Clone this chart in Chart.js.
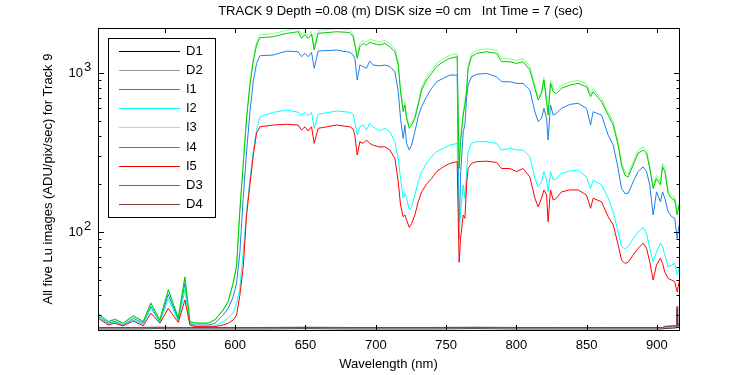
<!DOCTYPE html>
<html>
<head>
<meta charset="utf-8">
<script src="https://cdn.jsdelivr.net/npm/chart.js@4.4.1/dist/chart.umd.min.js"></script>
<style>
  body { margin: 0; background: #fff; }
  canvas { display: block; }
</style>
</head>
<body>
<canvas id="graph" width="750" height="375"></canvas>
<script>
// Comprimentos de onda (nm) das curvas I1..I5
var wavelength = [502.6, 509.7, 514.4, 520.3, 527.5, 534.6, 540.0, 546.4, 552.4, 559.5, 564.2, 567.8, 571.3, 580.8, 585.6, 591.5, 595.0, 598.6, 601.0, 603.3,
    605.7, 608.1, 610.5, 612.8, 615.2, 617.6, 627.0, 636.6, 644.8, 647.2, 649.6, 651.9, 654.3, 656.2, 659.0, 672.1, 681.6, 683.9, 685.1, 686.8,
    688.7, 691.0, 693.4, 695.7, 698.1, 702.9, 706.5, 710.0, 713.6, 716.0, 717.6, 719.5, 720.7, 721.9, 723.8, 725.5, 727.8, 730.2, 732.6, 736.1,
    739.7, 743.3, 748.0, 752.7, 757.9, 759.3, 760.3, 762.2, 763.4, 764.6, 765.7, 768.1, 771.7, 778.8, 785.9, 789.5, 795.4, 800.1, 804.8, 809.6,
    813.2, 815.5, 817.9, 819.6, 821.5, 822.6, 824.3, 826.2, 828.5, 832.1, 838.1, 843.9, 849.9, 852.8, 854.6, 860.6, 865.3, 868.9, 872.4, 874.8,
    877.2, 879.5, 883.1, 886.6, 890.2, 892.6, 894.9, 897.3, 899.7, 902.5, 904.0, 905.6, 908.0, 910.4, 912.7, 914.4, 915.8];

var i1 = [29.6, 26.7, 27.5, 26.0, 28.7, 26.7, 34.0, 27.3, 40.6, 28.0, 47.6, 26.7, 26.0, 26.0, 26.7, 30.1, 33.1, 39.2, 48, 74,
    163, 320, 571, 882, 1150, 1285, 1298, 1375, 1361, 1267, 1330, 1267, 1349, 1070, 1375, 1395, 1349, 1298, 1237, 904,
    1123, 1100, 1070, 1190, 1123, 1110, 1123, 1100, 1019, 763, 518, 388, 471, 361, 328, 352, 427, 531, 614, 710,
    801, 882, 926, 971, 971, 91, 228, 427, 471, 693, 840, 948, 981, 995, 948, 882, 882, 861, 861, 782,
    571, 494, 518, 600, 518, 379, 629, 544, 558, 600, 635, 645, 600, 471, 571, 544, 407, 352, 251, 188,
    175, 175, 207, 240, 257, 240, 198, 128, 179, 155, 179, 163, 134, 125, 122, 91, 111];

var i2 = [29.3, 26.4, 27.1, 25.7, 28.0, 26.3, 33.1, 27.0, 38.2, 27.5, 43.2, 26.4, 25.7, 25.7, 25.7, 27.3, 28.7, 30.9, 35.6, 44,
    75, 134, 215, 320, 440, 531, 566, 585, 566, 544, 566, 539, 566, 449, 550, 577, 566, 550, 494, 407,
    459, 471, 438, 483, 459, 432, 449, 427, 370, 290, 217, 163, 175, 163, 138, 144, 171, 207, 240, 270,
    298, 320, 336, 352, 361, 91, 134, 198, 163, 240, 320, 361, 370, 370, 361, 328, 336, 328, 328, 298,
    217, 193, 207, 240, 212, 179, 240, 212, 217, 234, 242, 245, 222, 188, 212, 198, 163, 134, 100, 81,
    78.3, 81, 91, 100, 107, 98, 79, 65, 75, 85, 81, 72, 60.5, 62, 63.5, 53.7, 59];

var i3 = [30.8, 27.5, 28.4, 26.9, 29.9, 27.5, 36.0, 28.2, 43.8, 29.0, 52.8, 27.5, 26.9, 26.9, 28.2, 32.7, 37.0, 48.5, 62.5, 140,
    275, 540, 875, 1230, 1565, 1740, 1768, 1857, 1900, 1727, 1830, 1727, 1830, 1458, 1857, 1900, 1880, 1768, 1568, 1293,
    1529, 1606, 1568, 1630, 1606, 1568, 1606, 1529, 1422, 1174, 797, 597, 657, 541, 469, 492, 541, 657, 817, 945,
    1040, 1150, 1231, 1293, 1324, 262, 387, 568, 657, 797, 1118, 1324, 1390, 1422, 1390, 1231, 1231, 1202, 1231, 1097,
    837, 706, 779, 945, 690, 568, 900, 797, 779, 837, 878, 900, 857, 742, 797, 690, 568, 492, 368, 276,
    238, 232, 276, 327, 343, 327, 262, 196, 227, 207, 269, 251, 183, 170, 166, 134, 155];

var i4 = [30.5, 27.3, 28.2, 26.7, 29.6, 27.3, 35.6, 28.0, 43.2, 28.7, 51.9, 27.3, 26.7, 26.7, 28.0, 32.3, 36.5, 47.6, 61, 135,
    264, 518, 840, 1178, 1500, 1667, 1692, 1777, 1819, 1653, 1751, 1653, 1751, 1395, 1777, 1819, 1800, 1692, 1500, 1237,
    1463, 1537, 1500, 1560, 1537, 1500, 1537, 1463, 1361, 1123, 763, 571, 629, 518, 449, 471, 518, 629, 782, 904,
    995, 1100, 1178, 1237, 1267, 251, 370, 544, 629, 763, 1070, 1267, 1330, 1361, 1330, 1178, 1178, 1150, 1178, 1050,
    801, 676, 745, 904, 660, 544, 861, 763, 745, 801, 840, 861, 820, 710, 763, 660, 544, 471, 352, 264,
    228, 222, 264, 313, 328, 313, 251, 188, 217, 198, 257, 240, 175, 163, 159, 128, 148];

var i5 = [28.7, 26.0, 26.7, 25.7, 27.6, 25.7, 30.9, 26.7, 33.1, 27.0, 37.4, 26.0, 25.4, 25.4, 25.4, 26.0, 26.7, 28.0, 30.1, 40,
    60, 128, 200, 300, 420, 459, 471, 476, 471, 438, 459, 432, 459, 361, 449, 471, 459, 444, 407, 305,
    370, 361, 379, 361, 352, 342, 344, 328, 290, 207, 148, 125, 128, 119, 107, 113, 128, 155, 179, 200,
    217, 240, 257, 270, 277, 64.5, 91, 128, 122, 198, 251, 270, 277, 279, 274, 251, 251, 240, 251, 222,
    163, 144, 163, 184, 171, 116, 184, 159, 163, 179, 184, 184, 171, 141, 163, 155, 125, 111, 83, 66.7,
    63.5, 64.5, 71.7, 79, 85, 79, 65, 49.9, 62, 68.5, 63.5, 56, 51, 49.9, 48.6, 42, 48.6];

// Curvas escuras (D1..D4), quase planas junto ao fundo
var dWavelength = [502.4, 530, 545, 560, 590, 620, 650, 680, 710, 740, 770, 800, 830, 860, 890, 904, 905.5, 911, 913.9, 914.3, 914.7, 915.7];
var d1 = [24.6, 24.6, 24.7, 24.6, 24.6, 24.6, 24.7, 24.6, 24.6, 24.6, 24.7, 24.6, 24.6, 24.6, 24.6, 24.6, 24.8, 24.9, 25.0, 29.0, 25.0, 25.2];
var d2 = [24.8, 24.8, 24.9, 24.8, 24.8, 24.8, 24.9, 24.8, 24.8, 24.8, 24.9, 24.8, 24.8, 24.8, 24.8, 24.8, 25.1, 25.3, 25.4, 31.0, 25.4, 25.6];
var d3 = [25.0, 25.0, 25.1, 25.0, 25.0, 25.0, 25.1, 25.0, 25.0, 25.0, 25.1, 25.0, 25.0, 25.0, 25.0, 25.0, 25.4, 25.6, 25.7, 33.0, 25.8, 26.0];
var d4 = [25.1, 25.1, 25.2, 25.1, 25.1, 25.1, 25.2, 25.1, 25.1, 25.1, 25.2, 25.1, 25.1, 25.1, 25.1, 25.1, 25.5, 25.7, 25.8, 34.0, 25.9, 26.1];

var seriesNames = ['D1', 'D2', 'I1', 'I2', 'I3', 'I4', 'I5', 'D3', 'D4'];
var seriesColors = ['#000000', '#999999', '#1a80ee', '#00ffff', '#80ff80', '#00c800', '#ff0000', '#806060', '#804040'];
var seriesValues = [d1, d2, i1, i2, i3, i4, i5, d3, d4];
var seriesX = [dWavelength, dWavelength, wavelength, wavelength, wavelength, wavelength, wavelength, dWavelength, dWavelength];

var titleText = 'TRACK 9 Depth =0.08 (m) DISK size =0 cm   Int Time = 7 (sec)';
var fontFamily = '"Liberation Sans", Arial, sans-serif';

var datasets = seriesNames.map(function(name, k) {
    return {
        label: name,
        data: seriesValues[k].map(function(v, i) { return {x: seriesX[k][i], y: v}; }),
        borderColor: seriesColors[k],
        backgroundColor: seriesColors[k],
        borderWidth: 1,
        pointRadius: 0,
        tension: 0,
        order: seriesNames.length - k
    };
});

// Moldura, marcas dos eixos, rótulos 10^n, título e legenda
var framePlugin = {
    id: 'frame',
    afterDatasetsDraw: function(chart) {
        var ctx = chart.ctx, a = chart.chartArea;
        var xs = chart.scales.x, ys = chart.scales.y;
        ctx.save();
        ctx.strokeStyle = '#000';
        ctx.lineWidth = 1;
        ctx.strokeRect(a.left + 0.5, a.top + 0.5, a.right - a.left, a.bottom - a.top);
        ctx.beginPath();
        xs.ticks.forEach(function(t) {
            var px = Math.round(xs.getPixelForValue(t.value)) + 0.5;
            ctx.moveTo(px, a.bottom); ctx.lineTo(px, a.bottom - 5);
            ctx.moveTo(px, a.top); ctx.lineTo(px, a.top + 5);
        });
        [10, 100, 1000].forEach(function(dec) {
            for (var m = 1; m <= 9; m++) {
                var v = m * dec;
                if (v < ys.min || v > ys.max) continue;
                var py = Math.round(ys.getPixelForValue(v)) + 0.5;
                var len = m === 1 ? 6 : 3.5;
                ctx.moveTo(a.left, py); ctx.lineTo(a.left + len, py);
                ctx.moveTo(a.right + 1, py); ctx.lineTo(a.right + 1 - len, py);
            }
        });
        ctx.stroke();

        ctx.fillStyle = '#000';
        ctx.font = '13px ' + fontFamily;
        ctx.textBaseline = 'middle';
        [100, 1000].forEach(function(v) {
            var py = ys.getPixelForValue(v);
            ctx.textAlign = 'right';
            ctx.fillText('10', 83, py);
            ctx.textAlign = 'left';
            ctx.fillText(String(Math.round(Math.log10(v))), 84, py - 6);
        });
        ctx.textAlign = 'center';
        ctx.fillText(titleText, 400.5, 11);
        ctx.restore();
    },
    afterDraw: function(chart) {
        var ctx = chart.ctx;
        ctx.save();
        ctx.fillStyle = '#fff';
        ctx.fillRect(108, 38, 107, 179);
        ctx.strokeStyle = '#000';
        ctx.lineWidth = 1;
        ctx.strokeRect(108.5, 38.5, 107, 179);
        ctx.font = '13px ' + fontFamily;
        ctx.textBaseline = 'middle';
        ctx.textAlign = 'left';
        seriesNames.forEach(function(name, i) {
            var yy = Math.round(51 + i * 19.1) + 0.5;
            ctx.strokeStyle = seriesColors[i];
            ctx.beginPath();
            ctx.moveTo(119, yy); ctx.lineTo(180, yy);
            ctx.stroke();
            ctx.fillStyle = '#000';
            ctx.fillText(name, 186, yy);
        });
        ctx.restore();
    }
};

var chart = new Chart(document.getElementById('graph').getContext('2d'), {
    type: 'line',
    data: { datasets: datasets },
    options: {
        responsive: false,
        animation: false,
        events: [],
        layout: { padding: { top: 28, right: 71, left: 0, bottom: 0 } },
        plugins: { legend: { display: false }, title: { display: false }, tooltip: { enabled: false } },
        scales: {
            x: {
                type: 'linear',
                min: 502.4,
                max: 915.7,
                grid: { display: false, drawTicks: false },
                border: { display: false },
                ticks: { stepSize: 50, includeBounds: false, padding: 8, color: '#000', font: { family: fontFamily, size: 13 }, maxRotation: 0 },
                title: { display: true, text: 'Wavelength (nm)', color: '#000', font: { family: fontFamily, size: 13 }, padding: { top: 0, bottom: 3 } },
                afterFit: function(s) { s.height = 45; }
            },
            y: {
                type: 'logarithmic',
                min: 24.2,
                max: 1920,
                grid: { display: false, drawTicks: false },
                border: { display: false },
                ticks: { callback: function() { return ''; } },
                title: { display: true, text: 'All five Lu images (ADU/pix/sec) for Track 9', color: '#000', font: { family: fontFamily, size: 13 }, padding: { top: 41, bottom: 0 } },
                afterFit: function(s) { s.width = 98; }
            }
        }
    },
    plugins: [framePlugin]
});
</script>
</body>
</html>
